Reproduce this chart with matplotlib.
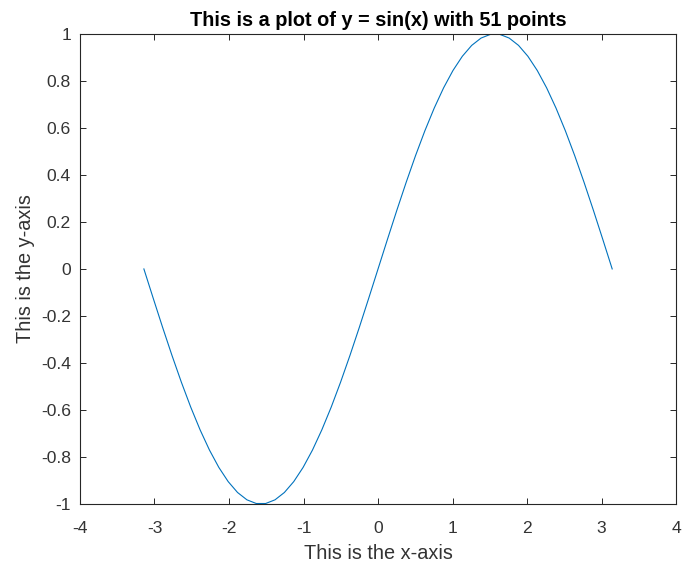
import matplotlib
matplotlib.use('Agg')
import matplotlib.pyplot as plt

plt.rcParams['font.family'] = ['Liberation Sans', 'DejaVu Sans']

# 51 sample points of sin(x) on [-pi, pi]
x = [-3.1416, -3.0159, -2.8903, -2.7646, -2.6389, -2.5133, -2.3876, -2.2619,
     -2.1363, -2.0106, -1.8850, -1.7593, -1.6336, -1.5080, -1.3823, -1.2566,
     -1.1310, -1.0053, -0.8796, -0.7540, -0.6283, -0.5027, -0.3770, -0.2513,
     -0.1257, 0.0,
     0.1257, 0.2513, 0.3770, 0.5027, 0.6283, 0.7540, 0.8796, 1.0053,
     1.1310, 1.2566, 1.3823, 1.5080, 1.6336, 1.7593, 1.8850, 2.0106,
     2.1363, 2.2619, 2.3876, 2.5133, 2.6389, 2.7646, 2.8903, 3.0159, 3.1416]
y = [0.0, -0.1253, -0.2487, -0.3681, -0.4818, -0.5878, -0.6845, -0.7705,
     -0.8443, -0.9048, -0.9511, -0.9823, -0.9980, -0.9980, -0.9823, -0.9511,
     -0.9048, -0.8443, -0.7705, -0.6845, -0.5878, -0.4818, -0.3681, -0.2487,
     -0.1253, 0.0,
     0.1253, 0.2487, 0.3681, 0.4818, 0.5878, 0.6845, 0.7705, 0.8443,
     0.9048, 0.9511, 0.9823, 0.9980, 0.9980, 0.9823, 0.9511, 0.9048,
     0.8443, 0.7705, 0.6845, 0.5878, 0.4818, 0.3681, 0.2487, 0.1253, 0.0]

xticks = [-4, -3, -2, -1, 0, 1, 2, 3, 4]
yticks = [-1, -0.8, -0.6, -0.4, -0.2, 0, 0.2, 0.4, 0.6, 0.8, 1]

fig = plt.figure(figsize=(6.83, 5.65), dpi=100)
ax = fig.add_axes([0.117, 0.108, 0.873, 0.832])

ax.plot(x, y, color='#0072BD', linewidth=0.8)

ax.set_xlim(-4, 4)
ax.set_ylim(-1, 1)
ax.set_xticks(xticks)
ax.set_yticks(yticks)
ax.set_xticklabels([f'{v:g}' for v in xticks])
ax.set_yticklabels([f'{v:g}' for v in yticks])

ax.tick_params(direction='in', length=4, width=0.7, top=True, right=True,
               labelsize=12.6, colors='#262626', labelcolor='#333333')
ax.tick_params(axis='x', pad=12)
ax.tick_params(axis='y', pad=6.5)
for s in ax.spines.values():
    s.set_color('#262626')
    s.set_linewidth(0.8)

ax.set_title('This is a plot of y = sin(x) with 51 points', fontsize=14.3,
             fontweight='bold', pad=6)
ax.set_xlabel('This is the x-axis', fontsize=14.3, color='#333333', labelpad=6)
ax.set_ylabel('This is the y-axis', fontsize=14.3, color='#333333', labelpad=4)

fig.savefig('out.png', dpi=100)
